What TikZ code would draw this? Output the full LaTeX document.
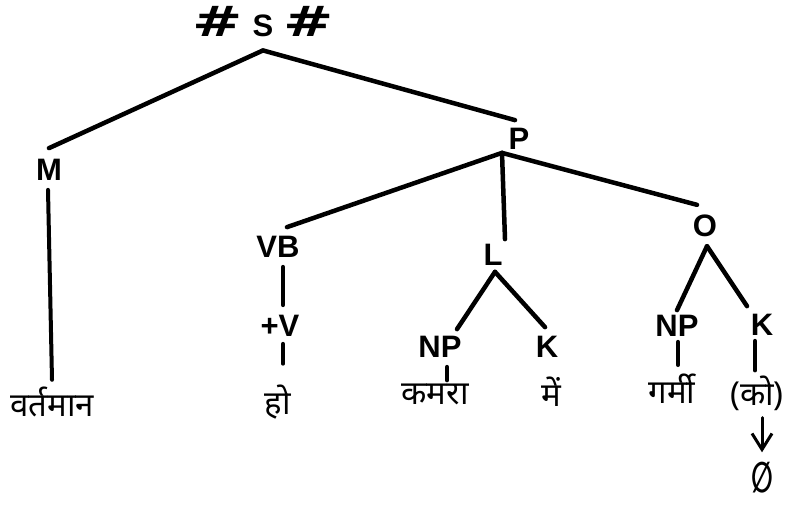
\documentclass[tikz,border=0pt]{standalone}
\usepackage{fontspec}
\usepackage{graphicx}
\setmainfont{Liberation Sans}
\newfontfamily\devafont[Script=Devanagari]{Noto Sans}
\newfontfamily\symfont{DejaVu Sans}
\usetikzlibrary{arrows.meta}
\tikzstyle{cat} = [font=\fontsize{31}{31}\selectfont\bfseries, inner sep=1pt]
\tikzstyle{word} = [font=\devafont\fontsize{33}{33}\selectfont\bfseries, inner sep=1pt]
\tikzstyle{branch} = [line width=4.5pt, line cap=round]
\tikzstyle{stem} = [line width=4pt, line cap=round]
\tikzstyle{rewrite} = [line width=3pt, line cap=round, -{Straight Barb[length=16pt, width=20pt]}]
\newcommand{\hashmark}{\scalebox{1.5}[1.05]{\symfont\fontsize{40}{40}\selectfont\#}}

\begin{document}
\begin{tikzpicture}[x=1pt, y=-1pt]
    \useasboundingbox (0,0) rectangle (792,504);
    % Nodes
    \node[cat] (s) at (263,22) {\hashmark\hspace{10pt}S\hspace{10pt}\hashmark};
    \node[cat] (m) at (49,170) {M};
    \node[cat] (p) at (519,139) {P};
    \node[cat] (vb) at (278,247) {VB};
    \node[cat] (l) at (493,255) {L};
    \node[cat] (o) at (705,226) {O};
    \node[cat] (v) at (280,326) {+V};
    \node[cat] (np1) at (440,347) {NP};
    \node[cat] (k1) at (547,347) {K};
    \node[cat] (np2) at (677,326) {NP};
    \node[cat] (k2) at (762,325) {K};

    % Words
    \node[word] (vartaman) at (52,402) {वर्तमान};
    \node[word] (ho) at (278,402) {हो};
    \node[word] (kamra) at (435,394) {कमरा};
    \node[word] (mein) at (551,392) {में};
    \node[word] (garmi) at (672,389) {गर्मी};
    \node[word] (ko) at (757,393) {(को)};
    \node[inner sep=0pt] (phi) at (762,478) {\scalebox{0.75}[1.25]{\symfont\bfseries\fontsize{34}{34}\selectfont ∅}};

    % Branches
    \draw[branch] ([yshift=-12pt]s.south) -- ([yshift=10pt]m.north);
    \draw[branch] ([yshift=-12pt]s.south) -- ([xshift=-4pt,yshift=7pt]p.north);
    \draw[branch] ([xshift=-17pt,yshift=-2pt]p.south) -- ([xshift=9pt,yshift=8pt]vb.north);
    \draw[branch] ([xshift=-17pt,yshift=-2pt]p.south) -- ([xshift=12pt,yshift=4pt]l.north);
    \draw[branch] ([xshift=-17pt,yshift=-2pt]p.south) -- ([xshift=-8pt,yshift=9pt]o.north);
    \draw[branch] ([xshift=2pt,yshift=-5pt]l.south) -- ([xshift=17pt,yshift=6pt]np1.north);
    \draw[branch] ([xshift=2pt,yshift=-5pt]l.south) -- ([xshift=-2pt,yshift=8pt]k1.north);
    \draw[branch] ([xshift=2pt,yshift=-8pt]o.south) -- ([yshift=4pt]np2.north);
    \draw[branch] ([xshift=2pt,yshift=-8pt]o.south) -- ([xshift=-15pt,yshift=7pt]k2.north);

    % Stems
    \draw[stem] ([xshift=-1pt,yshift=-8pt]m.south) -- ([yshift=6pt]vartaman.north);
    \draw[stem] ([xshift=5pt,yshift=-8pt]vb.south) -- ([xshift=3pt,yshift=9pt]v.north);
    \draw[stem] ([xshift=3pt,yshift=-6pt]v.south) -- ([xshift=5pt,yshift=20pt]ho.north);
    \draw[stem] ([xshift=7pt,yshift=-8pt]np1.south) -- ([xshift=12pt,yshift=2pt]kamra.north);
    \draw[stem] ([xshift=1pt,yshift=-4pt]np2.south) -- ([xshift=6pt,yshift=8pt]garmi.north);
    \draw[stem] ([xshift=-7pt,yshift=-4pt]k2.south) -- ([xshift=-2pt,yshift=4pt]ko.north);
    \draw[rewrite] ([xshift=5pt,yshift=-6pt]ko.south) -- ([yshift=10pt]phi.north);
\end{tikzpicture}
\end{document}
